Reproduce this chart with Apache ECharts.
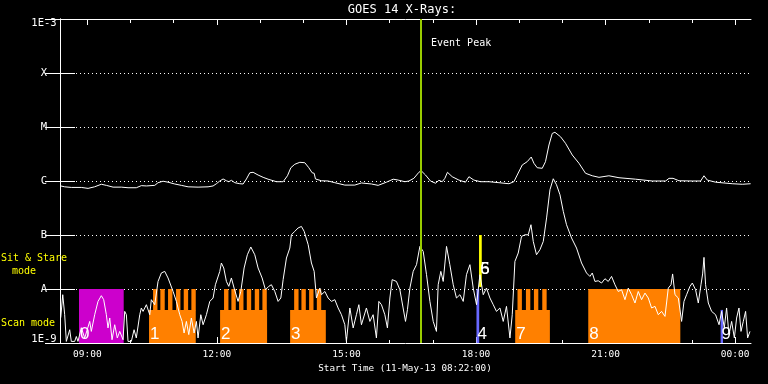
<!DOCTYPE html>
<html>
<head>
<meta charset="utf-8">
<script src="https://cdn.jsdelivr.net/npm/echarts@6/dist/echarts.min.js"></script>
<style>
html,body{margin:0;padding:0;background:#000;}
#chart{width:768px;height:384px;}
</style>
</head>
<body>
<div id="chart"></div>
<script>
// Time axis: minutes after start time 11-May-13 08:22:00
const startLabel = 'Start Time (11-May-13 08:22:00)';
const titleText = 'GOES 14 X-Rays:';

// GOES long channel (1-8 A), flux in units of 1e-6 W/m^2
const longTime = [
  1,6.5,15.7,29.6,39,48,57.4,64.4,73.7,85.2,
  94.5,106,113,120,131.6,136.2,143.2,150.1,159.4,168.6,
  178,191.8,205.7,212.7,217.3,222,226.6,231.2,234.5,238.1,
  242.8,249.8,254.4,259,263.7,268.3,275.2,282.2,289.1,300.7,
  310,316,320.7,326.2,333.2,340.1,345.7,350.3,353.1,354.9,
  363.2,372.5,381.8,395.7,409.6,418.8,432.7,442,453.5,462.9,
  469.8,479.1,484.7,491.6,498.6,501.8,507.8,514.7,521.7,526.4,
  531,534.7,538.3,544.9,554.2,563.3,568.1,575,584.2,595.9,
  609.8,623.7,630.6,635.2,642.2,649.1,654.7,658.4,663,670,
  674.5,679.3,683.9,687.6,695.4,702.3,711.7,721,730.1,739.5,
  748.8,762.6,776.6,799.7,822.9,841.4,846.1,851.7,860,878.5,
  890,894.7,899.3,910.8,934,947.9,959.5
];
const longFluxMicro = [
  0.81,0.78,0.76,0.76,0.73,0.78,0.87,0.83,0.77,0.77,
  0.75,0.75,0.82,0.81,0.83,0.93,0.99,0.95,0.88,0.83,
  0.78,0.77,0.78,0.81,0.89,1.0,1.09,1.01,0.97,1.03,
  0.93,0.89,0.88,1.09,1.42,1.45,1.29,1.17,1.08,0.97,
  0.97,1.25,1.76,2.04,2.22,2.18,1.76,1.42,1.39,1.09,
  1.01,1.0,0.93,0.84,0.84,0.92,0.88,0.83,0.95,1.08,
  1.04,0.97,1.0,1.12,1.45,1.55,1.29,1.0,0.91,1.03,
  0.97,1.12,1.45,1.2,1.04,0.95,1.2,1.04,0.97,0.97,
  0.93,0.89,0.97,1.29,1.98,2.28,2.78,2.13,1.76,1.72,
  2.28,4.64,7.6,7.98,6.6,4.99,3.03,2.13,1.39,1.25,
  1.17,1.25,1.15,1.08,1.0,1.0,1.12,1.12,1.01,1.0,
  1.0,1.25,1.04,0.95,0.89,0.87,0.89
];

// GOES short channel (0.5-4 A), flux in units of 1e-9 W/m^2
const shortTime = [
  1,3.8,6.5,8.8,13.5,15.7,20.4,22.7,25,29.6,
  34.3,41.3,43.5,48.2,52.8,57.4,60.7,64.4,66.7,69.1,
  72.3,76,79.6,83,87.6,89.9,92.2,94.5,99.1,102.9,
  106,110.8,113,115.4,120,124.7,126.9,131.6,136.2,140.8,
  145.5,150.1,157.1,161.7,166.4,169.6,172.4,175.6,178.9,182.5,
  186.3,189.5,191.8,195.6,198.8,203.4,208.1,212.7,215.9,218.6,
  222,224.2,227.5,231.2,234.5,238.1,241.9,247.4,251.2,255.8,
  260.3,265.1,270.6,275.2,280.8,285.4,290.1,293.7,298.4,303,
  306.8,310,314.6,319.3,321.5,326.2,330.8,335.4,339.2,344.8,
  349.3,353.1,356.3,361,363.2,368,372.5,377.1,381.8,386.4,
  391,395.7,397.9,402.7,407.3,411.8,415.2,418.8,425.7,430.5,
  435,439.6,443,446.6,451.3,454.9,458.3,461.5,467.4,472.2,
  476.7,480,482.7,486.1,490.7,495.3,500,504.6,509.2,513.9,
  518.5,523,525.4,529.1,532.4,537,541.6,546.3,550.8,555.6,
  560.2,564.7,569.5,574.1,578.7,583.4,588,592.5,597.3,601.9,
  606.4,611.2,615.8,620.3,625.1,628.3,632,636.6,641.2,645.9,
  650.5,654.3,657.5,662,666.8,671.4,676,680.7,685.3,689.8,
  694.6,699.2,703.7,710.7,717.6,724.6,731.5,736.2,739.5,743.2,
  747.8,752.4,757.1,761.7,766.3,771,775.6,780.2,784.9,789.5,
  794.1,798.8,803.4,808,812.7,817.3,821.9,826.6,831.2,835.8,
  840.5,845.1,848.9,851.1,854.4,859,863.6,866.9,870.5,875.2,
  878.5,883,886.8,890.5,892.8,894.7,896.9,900.7,905.3,910.8,
  915.6,919.2,922.9,926.1,929.4,933.1,936.9,940,943.3,946.1,
  949.3,952.5,955.3,958.6
];
const shortFluxNano = [
  2.94,7.84,3.34,1.07,1.76,1.07,1.07,1.32,1.07,1.92,
  1.24,2.51,1.64,3.34,5.89,7.52,6.34,3.34,1.90,2.90,
  1.15,2.18,1.24,1.64,1.15,3.85,3.34,1.07,1.07,1.76,
  1.24,3.34,4.45,3.85,5.12,3.34,6.34,5.12,13.8,19.8,
  21.2,16.0,9.0,5.89,3.34,2.51,1.53,2.51,1.43,2.90,
  1.53,2.51,1.24,3.34,2.18,3.34,5.89,6.81,12.0,11.2,
  21.2,30.3,24.5,13.8,11.2,16.0,10.4,5.89,9.0,24.5,
  43.1,60,43.1,24.5,16.0,9.7,11.2,12.0,9.0,5.89,
  6.81,14.9,37.5,57.4,101,117,135,144,117,66.1,
  30.3,21.2,6.81,10.4,7.84,9.0,6.81,5.89,6.34,4.45,
  3.34,2.18,1.07,4.45,1.90,3.34,5.12,2.18,4.45,2.51,
  3.34,1.24,5.89,5.12,3.34,1.90,6.81,14.9,13.8,9.7,
  4.45,2.51,4.14,10.4,21.2,28.2,61.5,49.7,18.4,5.89,
  2.51,1.64,12.0,21.2,13.8,61.5,28.2,12.0,6.81,7.84,
  5.89,18.4,28.2,10.4,5.12,18.4,7.84,10.4,6.81,5.12,
  3.85,4.45,2.51,4.77,1.24,3.34,32.4,46.4,94,101,
  101,155,76,43.1,53.5,76,207,690,1100,850,
  557,274,155,88,57.4,30.3,19.8,17.1,19.8,13.8,
  14.2,12.9,15.5,13.8,17.1,12.0,9.0,9.7,6.34,10.4,
  7.84,5.5,9.0,6.34,8.4,6.81,4.45,4.77,3.34,3.85,
  3.11,10.4,12.0,19.0,7.84,6.81,2.51,5.89,7.84,11.2,
  12.9,9.7,5.5,12.0,19.0,38.5,12.0,5.5,3.85,3.34,
  2.18,3.85,1.90,4.45,1.43,2.51,1.24,2.90,4.45,1.64,
  2.51,3.85,1.24,1.64
];

// Axis ticks / labels
const hourTicks = [38,98,158,218,278,338,398,458,518,578,638,698,758,818,878,938];
const hourLabelTicks = [38,218,398,578,758,938];
const hourLabels = ['09:00','12:00','15:00','18:00','21:00','00:00'];
const yTickLabels = ['1E-9','A','B','C','M','X','1E-3'];

// Event peak (minutes after start)
const eventPeakTime = 501.4;
const eventLabel = 'Event Peak';

// Observation blocks
const blockLabel = ['0','1','2','3','4','5','6','7','8','9'];
const blockStart = [26.4,123.7,222.4,319.7,578.6,582.4,582.4,632.4,733.9,917.8];
const blockEnd   = [88.5,188.6,287.7,369.3,582.4,585.6,585.6,680.6,861.8,921.1];
const blockGroup = ['M','O','O','O','B','Y','Y','O','O','B'];
const blockMode  = ['stare','raster','raster','raster','stare','high','high','raster','stare','low'];
const blockTeeth = [
  [],
  [129.3,139.4,150.1,161.2,171.9,182.5],
  [227.9,238.1,248.8,259.5,270.6,281.2],
  [325.3,335.4,346.1,356.8],
  [],[],[],
  [635.6,647.3,658.4,670.0],
  [],[]
];
const toothDuration = 6.1;

// ---- styling / levels ----
const LV_BOTTOM = 1e-9, LV_LOW = 4.1e-9, LV_A = 1e-8, LV_HIGH0 = 1.1e-8, LV_HIGH1 = 1e-7;
const GROUP_COLOR = {M:'#cc00cc', O:'#ff8000', B:'#6868ff', Y:'#ffff00'};
const MONO = '"DejaVu Sans Mono", monospace';

const longData = longTime.map((t,i)=>[t, longFluxMicro[i]*1e-6]);
const shortData = shortTime.map((t,i)=>[t, shortFluxNano[i]*1e-9]);
const blockData = blockStart.map((s,i)=>{
  const m = blockMode[i];
  let lo = LV_BOTTOM, hi = LV_A;
  if (m==='low') hi = LV_LOW;
  if (m==='high') { lo = LV_HIGH0; hi = LV_HIGH1; }
  return [s, blockEnd[i], lo, hi, i];
});

const chart = echarts.init(document.getElementById('chart'), null, {renderer:'canvas'});

function xLabelFmt(v){
  const i = hourLabelTicks.findIndex(t=>Math.abs(t-v)<0.5);
  return i>=0 ? hourLabels[i] : '';
}
function yLabelFmt(v){
  const k = Math.round(Math.log10(v)) + 9;
  const t = yTickLabels[k] || '';
  if (k===6) return '{t|'+t+'}';
  if (k===0) return '{b|'+t+'}';
  return t;
}

const baseX = {type:'value', min:0, max:960, gridIndex:0, splitLine:{show:false}};
const option = {
  backgroundColor:'#000',
  animation:false,
  grid:{left:60, right:17, top:19, bottom:41, containLabel:false, outerBoundsMode:'none'},
  xAxis:[
    Object.assign({}, baseX, {position:'bottom',
      axisLine:{show:true, lineStyle:{color:'#fff', width:1}},
      axisTick:{show:true, inside:true, length:6, customValues:hourLabelTicks, lineStyle:{color:'#fff'}},
      axisLabel:{show:true, customValues:hourLabelTicks, formatter:xLabelFmt, color:'#fff', fontSize:9.5, fontFamily:MONO, margin:7}
    }),
    Object.assign({}, baseX, {position:'bottom',
      axisLine:{show:false},
      axisTick:{show:true, inside:true, length:3, customValues:hourTicks, lineStyle:{color:'#fff'}},
      axisLabel:{show:false}
    }),
    Object.assign({}, baseX, {position:'top',
      axisLine:{show:true, lineStyle:{color:'#fff', width:1}},
      axisTick:{show:true, inside:true, length:6, customValues:hourLabelTicks, lineStyle:{color:'#fff'}},
      axisLabel:{show:false}
    }),
    Object.assign({}, baseX, {position:'top',
      axisLine:{show:false},
      axisTick:{show:true, inside:true, length:4, customValues:hourTicks, lineStyle:{color:'#fff'}},
      axisLabel:{show:false}
    })
  ],
  yAxis:[
    {type:'log', logBase:10, min:1e-9, max:1e-3, position:'left',
     axisLine:{show:true, lineStyle:{color:'#fff', width:1}},
     axisTick:{show:true, inside:true, length:15, lineStyle:{color:'#fff'}},
     axisLabel:{show:true, color:'#fff', fontSize:10.5, fontFamily:MONO, align:'center', margin:16,
       showMinLabel:true, showMaxLabel:true, formatter:yLabelFmt,
       rich:{
         t:{color:'#fff', fontSize:10.5, fontFamily:MONO, padding:[9,0,0,0]},
         b:{color:'#fff', fontSize:10.5, fontFamily:MONO, padding:[0,0,7,0]}
       }},
     splitLine:{show:true, showMinLine:false, showMaxLine:false, lineStyle:{color:'#fff', width:1, type:[1,3]}}
    },
    {type:'log', logBase:10, min:1e-9, max:1e-3, position:'right',
     axisLine:{show:true, lineStyle:{color:'#fff', width:1}},
     axisTick:{show:true, inside:true, length:15, lineStyle:{color:'#fff'}},
     axisLabel:{show:false},
     splitLine:{show:false}
    }
  ],
  series:[
    {
      type:'custom', name:'blocks', xAxisIndex:0, yAxisIndex:0, z:1, silent:true,
      encode:{x:[0,1], y:[2,3]},
      data: blockData,
      renderItem: function(params, api){
        const i = params.dataIndex;
        const s = api.value(0), e = api.value(1), lo = api.value(2), hi = api.value(3);
        const color = GROUP_COLOR[blockGroup[i]];
        const children = [];
        function rect(t0,t1,v0,v1){
          const p0 = api.coord([t0, v1]);
          const p1 = api.coord([t1, v0]);
          children.push({type:'rect', shape:{x:p0[0], y:p0[1], width:Math.max(p1[0]-p0[0],1), height:p1[1]-p0[1]}, style:{fill:color}});
        }
        if (blockMode[i]==='raster') {
          rect(s, e, lo, LV_LOW);
          blockTeeth[i].forEach(t=>rect(t, Math.min(t+toothDuration, e), LV_LOW*0.98, hi));
        } else {
          rect(s, e, lo, hi);
        }
        const base = api.coord([s, lo]);
        const dy = blockMode[i]==='high' ? -9 : 0;
        children.push({type:'text', x: base[0]+1, y: base[1]+dy,
          style:{text: blockLabel[i], fill:'#fff', font:'17px "Liberation Sans", sans-serif', align:'left', verticalAlign:'bottom'}});
        return {type:'group', children};
      }
    },
    {
      type:'line', name:'short', data: shortData, xAxisIndex:0, yAxisIndex:0, z:2,
      showSymbol:false, symbol:'none', silent:true,
      lineStyle:{color:'#fff', width:1}
    },
    {
      type:'line', name:'long', data: longData, xAxisIndex:0, yAxisIndex:0, z:3,
      showSymbol:false, symbol:'none', silent:true,
      lineStyle:{color:'#fff', width:1},
      markLine:{silent:true, symbol:['none','none'], label:{show:false},
        lineStyle:{color:'#99cc00', width:2, type:'solid'},
        emphasis:{disabled:true},
        data:[{xAxis: eventPeakTime}]}
    }
  ],
  graphic:[
    {type:'text', x:402, y:10, z:100, style:{text:titleText, fill:'#fff', font:'12px '+MONO, align:'center', verticalAlign:'middle'}},
    {type:'text', x:431, y:43, z:100, style:{text:eventLabel, fill:'#fff', font:'10px '+MONO, align:'left', verticalAlign:'middle'}},
    {type:'text', x:34, y:258, z:100, style:{text:'Sit & Stare', fill:'#ffff00', font:'10px '+MONO, align:'center', verticalAlign:'middle'}},
    {type:'text', x:24, y:271, z:100, style:{text:'mode', fill:'#ffff00', font:'10px '+MONO, align:'center', verticalAlign:'middle'}},
    {type:'text', x:28, y:323, z:100, style:{text:'Scan mode', fill:'#ffff00', font:'10px '+MONO, align:'center', verticalAlign:'middle'}},
    {type:'text', x:405, y:369, z:100, style:{text:startLabel, fill:'#fff', font:'9.3px '+MONO, align:'center', verticalAlign:'middle'}}
  ]
};
chart.setOption(option);
</script>
</body>
</html>
